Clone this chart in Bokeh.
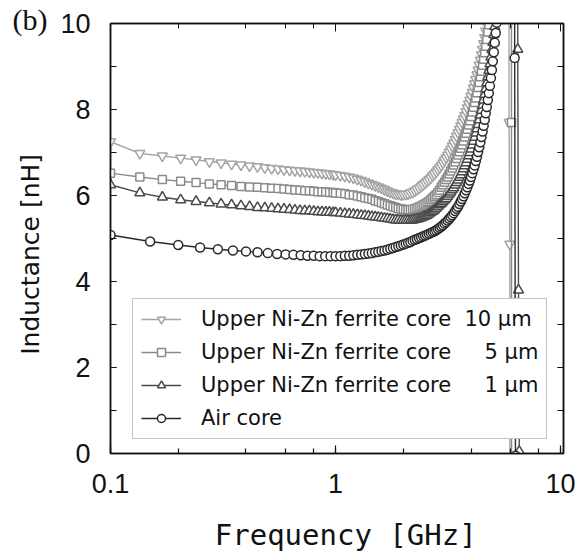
import numpy as np
from bokeh.plotting import figure
from bokeh.models import (Legend, LegendItem, LinearAxis, LogAxis, SingleIntervalTicker,
                          LogTicker, Range1d)
from bokeh.embed import file_html
from bokeh.resources import INLINE

# ---------------- data (inductance in nH) ----------------
# air core: sampled every 0.05 GHz starting at 0.10 GHz
air_core = [
    5.08, 4.93, 4.85, 4.79, 4.75, 4.72, 4.70, 4.68, 4.66, 4.64,
    4.63, 4.62, 4.61, 4.60, 4.60, 4.59, 4.59, 4.59, 4.59, 4.59,
    4.60, 4.60, 4.61, 4.62, 4.63, 4.64, 4.65, 4.66, 4.68, 4.69,
    4.71, 4.72, 4.74, 4.76, 4.78, 4.80, 4.82, 4.84, 4.86, 4.88,
    4.90, 4.92, 4.95, 4.97, 4.99, 5.01, 5.03, 5.05, 5.07, 5.09,
    5.11, 5.13, 5.15, 5.17, 5.19, 5.22, 5.25, 5.28, 5.31, 5.35,
    5.38, 5.42, 5.46, 5.50, 5.54, 5.59, 5.64, 5.69, 5.74, 5.80,
    5.86, 5.92, 5.98, 6.05, 6.12, 6.19, 6.27, 6.35, 6.43, 6.52,
    6.61, 6.70, 6.80, 6.90, 7.01, 7.12, 7.24, 7.36, 7.49, 7.62,
    7.76, 7.91, 8.06, 8.22, 8.38, 8.55, 8.73, 8.92, 9.12, 9.33,
    9.55, 9.78, 10.02, 10.28, 10.55, 10.85, 11.17, 11.52, 11.9, 12.3,
    12.8, 13.4, 14.1, 15.0, 16.1, 17.5, 19.4, 22.0, 26.0, 33.0,
    46.0, 80.0, 140.0, 9.2, -0.05, -120.0, -70.0, -45.0,
]

# ferrite cores: 26 points every 0.035 GHz from 0.10 GHz, then every 0.05 GHz from 1.00 GHz
ferrite_10um = [
    7.25, 6.98, 6.92, 6.87, 6.83, 6.79, 6.76, 6.73, 6.71, 6.69,
    6.67, 6.65, 6.63, 6.62, 6.60, 6.59, 6.58, 6.57, 6.56, 6.55,
    6.54, 6.53, 6.52, 6.51, 6.50, 6.49,
    6.48, 6.47, 6.45, 6.43, 6.41, 6.38, 6.35, 6.32, 6.29, 6.26,
    6.23, 6.20, 6.17, 6.14, 6.11, 6.08, 6.06, 6.04, 6.03, 6.02,
    6.02, 6.03, 6.04, 6.06, 6.08, 6.11, 6.14, 6.17, 6.21, 6.25,
    6.29, 6.33, 6.37, 6.41, 6.46, 6.50, 6.55, 6.60, 6.65, 6.70,
    6.76, 6.82, 6.88, 6.94, 7.01, 7.08, 7.15, 7.22, 7.30, 7.38,
    7.46, 7.54, 7.62, 7.70, 7.78, 7.86, 7.95, 8.04, 8.13, 8.22,
    8.31, 8.40, 8.50, 8.60, 8.70, 8.81, 8.92, 9.03, 9.15, 9.27,
    9.40, 9.53, 9.67, 9.82, 9.98, 10.15, 10.33, 10.52, 10.72, 10.93,
    11.2, 11.5, 11.8, 12.2, 12.6, 13.1, 13.7, 14.4, 15.2, 16.2,
    17.5, 19.2, 21.5, 25.0, 30.0, 38.0, 52.0, 90.0, 7.7, 4.87,
    -110.0, -60.0, -40.0,
]

ferrite_5um = [
    6.52, 6.43, 6.37, 6.33, 6.30, 6.27, 6.25, 6.23, 6.21, 6.20,
    6.19, 6.18, 6.17, 6.16, 6.15, 6.14, 6.13, 6.12, 6.11, 6.11,
    6.10, 6.09, 6.09, 6.08, 6.07, 6.07,
    6.06, 6.05, 6.04, 6.02, 6.01, 5.99, 5.97, 5.95, 5.93, 5.91,
    5.88, 5.86, 5.83, 5.81, 5.78, 5.76, 5.74, 5.72, 5.70, 5.69,
    5.68, 5.67, 5.67, 5.67, 5.68, 5.69, 5.71, 5.73, 5.75, 5.78,
    5.80, 5.83, 5.86, 5.90, 5.94, 5.98, 6.02, 6.07, 6.12, 6.19,
    6.25, 6.31, 6.37, 6.43, 6.50, 6.57, 6.64, 6.71, 6.78, 6.86,
    6.94, 7.02, 7.10, 7.18, 7.27, 7.36, 7.45, 7.54, 7.64, 7.74,
    7.84, 7.94, 8.05, 8.16, 8.27, 8.39, 8.51, 8.63, 8.76, 8.89,
    9.03, 9.17, 9.32, 9.47, 9.63, 9.80, 9.97, 10.15, 10.34, 10.54,
    10.75, 10.97, 11.2, 11.5, 11.8, 12.2, 12.6, 13.1, 13.7, 14.4,
    15.2, 16.2, 17.5, 19.2, 21.5, 25.0, 30.0, 38.0, 52.0, 80.0,
    150.0, 7.7, -130.0, -70.0, -45.0,
]

ferrite_1um = [
    6.25, 6.06, 5.96, 5.90, 5.86, 5.83, 5.80, 5.78, 5.76, 5.74,
    5.72, 5.71, 5.70, 5.69, 5.68, 5.67, 5.66, 5.65, 5.64, 5.64,
    5.63, 5.62, 5.62, 5.61, 5.61, 5.60,
    5.60, 5.59, 5.58, 5.57, 5.56, 5.55, 5.54, 5.53, 5.52, 5.51,
    5.50, 5.49, 5.48, 5.47, 5.46, 5.45, 5.44, 5.43, 5.43, 5.42,
    5.42, 5.42, 5.42, 5.42, 5.43, 5.44, 5.45, 5.46, 5.48, 5.50,
    5.52, 5.54, 5.57, 5.60, 5.63, 5.66, 5.70, 5.74, 5.78, 5.81,
    5.85, 5.89, 5.93, 5.98, 6.03, 6.08, 6.13, 6.18, 6.24, 6.30,
    6.36, 6.42, 6.48, 6.55, 6.62, 6.69, 6.76, 6.84, 6.92, 7.00,
    7.08, 7.17, 7.26, 7.35, 7.45, 7.55, 7.65, 7.76, 7.87, 7.98,
    8.10, 8.22, 8.35, 8.48, 8.62, 8.76, 8.91, 9.06, 9.22, 9.39,
    9.56, 9.74, 9.93, 10.13, 10.34, 10.56, 10.8, 11.05, 11.3, 11.6,
    12.0, 12.4, 12.9, 13.4, 14.0, 14.8, 15.7, 16.8, 18.2, 20.0,
    23.0, 27.0, 33.0, 42.0, 56.0, 80.0, 120.0, 200.0, 400.0, 9.4,
    3.8, 0.05, -300.0, -150.0, -90.0,
]

series_names = [
    "Upper Ni-Zn ferrite core\u00a0\u00a010\u00a0\u03bcm",
    "Upper Ni-Zn ferrite core\u00a0\u00a0\u2007\u00a05\u00a0\u03bcm",
    "Upper Ni-Zn ferrite core\u00a0\u00a0\u2007\u00a01\u00a0\u03bcm",
    "Air core",
]
x_tick_values = [0.1, 1, 10]
x_tick_labels = ["0.1", "1", "10"]
panel_label = "(b)"


def ferrite_freq(n):
    return np.round(np.concatenate([0.10 + 0.035 * np.arange(26),
                                    1.00 + 0.05 * np.arange(n - 26)]), 4)


air_freq = np.round(0.10 + 0.05 * np.arange(len(air_core)), 4)

# ---------------- figure ----------------
p = figure(width=575, height=554, x_axis_type="log", title=panel_label,
           x_range=Range1d(0.1, 10.3), y_range=Range1d(0, 10),
           output_backend="svg", toolbar_location=None,
           min_border_left=110, min_border_right=12, min_border_top=23, min_border_bottom=94)
p.background_fill_color = "white"
p.border_fill_color = "white"
p.xgrid.visible = False
p.ygrid.visible = False
p.outline_line_color = "#111111"
p.outline_line_width = 1.5

# panel label "(b)" drawn as the title, pulled to the upper-left corner
p.title.align = "left"
p.title.offset = -98
p.title.standoff = -24
p.title.text_font = "Liberation Serif"
p.title.text_font_size = "30px"
p.title.text_font_style = "normal"
p.title.text_color = "#111111"

specs = [
    (ferrite_10um, ferrite_freq(len(ferrite_10um)), "inverted_triangle", "#a4a4a4", 10),
    (ferrite_5um, ferrite_freq(len(ferrite_5um)), "square", "#8a8a8a", 8),
    (ferrite_1um, ferrite_freq(len(ferrite_1um)), "triangle", "#4a4a4a", 10),
    (air_core, air_freq, "circle", "#2a2a2a", 9),
]

items = []
for (vals, fr, marker, color, size), name in zip(specs, series_names):
    ln = p.line(fr, vals, line_color=color, line_width=1.4)
    sc = p.scatter(fr, vals, marker=marker, size=size, line_color=color,
                   fill_color="white", line_width=1.5)
    items.append(LegendItem(label=name, renderers=[ln, sc]))

# axes styling
tick_font = "Liberation Sans"
p.yaxis.ticker = SingleIntervalTicker(interval=2, num_minor_ticks=2)
p.xaxis.ticker = LogTicker()
p.xaxis.major_label_overrides = dict(zip(x_tick_values, x_tick_labels))

for ax in [p.xaxis[0], p.yaxis[0]]:
    ax.axis_line_color = "#111111"
    ax.axis_line_width = 1.5
    ax.major_tick_line_color = "#111111"
    ax.minor_tick_line_color = "#111111"
    ax.major_tick_line_width = 1.2
    ax.minor_tick_line_width = 1.2
    ax.major_tick_out = 0
    ax.minor_tick_out = 0
    ax.major_label_text_font = tick_font
    ax.major_label_text_font_size = "27px"
    ax.major_label_text_color = "#111111"
    ax.axis_label_text_font_style = "normal"
    ax.axis_label_text_color = "#111111"

p.yaxis.major_tick_in = 6
p.yaxis.minor_tick_in = 6
p.xaxis.major_tick_in = 8
p.xaxis.minor_tick_in = 5
p.yaxis.major_label_standoff = 20
p.xaxis.major_label_standoff = 20

p.yaxis.axis_label = "Inductance [nH]\u00a0\u00a0\u00a0\u00a0"
p.yaxis.axis_label_text_font = "DejaVu Sans"
p.yaxis.axis_label_text_font_size = "25px"
p.yaxis.axis_label_standoff = 12

p.xaxis.axis_label = "\u00a0Frequency [GHz]"
p.xaxis.axis_label_text_font = "DejaVu Sans Mono"
p.xaxis.axis_label_text_font_size = "29px"
p.xaxis.axis_label_standoff = 22

# mirrored tick marks on top and right (no labels)
top = LogAxis(ticker=LogTicker(), major_label_overrides={0.1: "", 1: "", 10: ""})
right = LinearAxis(ticker=SingleIntervalTicker(interval=2, num_minor_ticks=2),
                   major_label_overrides={v: "" for v in [0, 2, 4, 6, 8, 10]})
for ax, tin, min_in in [(top, 8, 5), (right, 6, 6)]:
    ax.axis_line_color = "#111111"
    ax.axis_line_width = 1.5
    ax.major_tick_line_color = "#111111"
    ax.minor_tick_line_color = "#111111"
    ax.major_tick_out = 0
    ax.minor_tick_out = 0
    ax.major_tick_in = tin
    ax.minor_tick_in = min_in
    ax.major_label_text_font_size = "1px"
    ax.major_label_standoff = 0
p.add_layout(top, "above")
p.add_layout(right, "right")

legend = Legend(items=items, location=(22, 14), orientation="vertical",
                label_text_font="DejaVu Sans", label_text_font_size="21px",
                label_text_color="#111111",
                glyph_width=40, glyph_height=20, label_height=20,
                label_standoff=20, spacing=9, padding=8, margin=0,
                border_line_color="#888888", border_line_width=1.5,
                background_fill_color="white", background_fill_alpha=1.0)
p.add_layout(legend, "center")

open("out.html", "w").write(file_html(p, INLINE))
